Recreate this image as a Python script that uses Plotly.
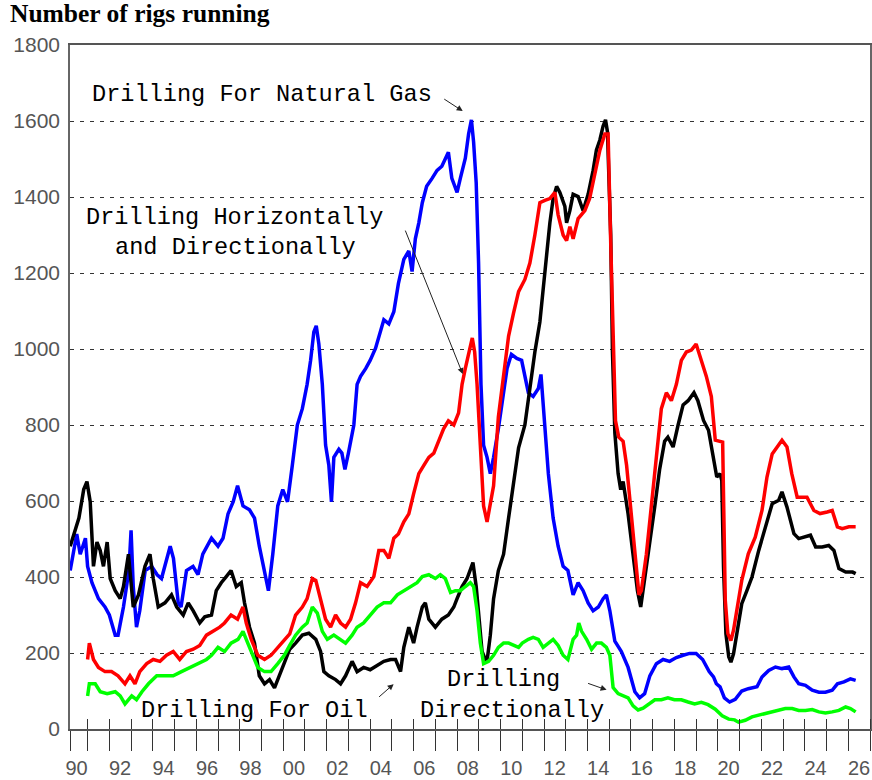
import plotly.graph_objects as go

# Baker Hughes style rig counts (decimal years)
gas_years = [1990.2, 1990.5, 1990.66, 1990.9, 1991.0, 1991.2, 1991.5, 1991.8, 1992.0, 1992.27,
             1992.4, 1992.65, 1992.9, 1993.0, 1993.1, 1993.25, 1993.4, 1993.65, 1993.95, 1994.2,
             1994.4, 1994.55, 1994.8, 1994.95, 1995.17, 1995.3, 1995.55, 1995.85, 1996.08, 1996.3,
             1996.7, 1997.0, 1997.23, 1997.46, 1997.7, 1997.9, 1998.15, 1998.45, 1998.68, 1998.9,
             1999.14, 1999.32, 1999.52, 1999.75, 1999.98, 2000.2, 2000.42, 2000.65, 2000.88, 2001.1,
             2001.26, 2001.41, 2001.52, 2001.64, 2001.8, 2001.95, 2002.1, 2002.22, 2002.33, 2002.56,
             2002.7, 2002.84, 2003.0, 2003.25, 2003.4, 2003.56, 2003.8, 2004.0, 2004.25, 2004.4,
             2004.63, 2004.86, 2005.09, 2005.3, 2005.55, 2005.78, 2005.93, 2006.08, 2006.24, 2006.4,
             2006.6, 2006.85, 2007.08, 2007.3, 2007.46, 2007.6, 2007.76, 2008.0, 2008.15, 2008.38,
             2008.53, 2008.66, 2008.76, 2008.88, 2008.99, 2009.1, 2009.22, 2009.38, 2009.53, 2009.68,
             2009.9, 2010.07, 2010.3, 2010.5, 2010.75, 2010.97, 2011.28, 2011.5, 2011.74, 2011.86,
             2011.96, 2012.2, 2012.42, 2012.65, 2012.88, 2013.1, 2013.34, 2013.57, 2013.8, 2014.03,
             2014.26, 2014.5, 2014.72, 2014.87, 2015.03, 2015.26, 2015.56, 2015.87, 2016.18, 2016.4,
             2016.63, 2016.87, 2017.17, 2017.48, 2017.78, 2018.09, 2018.4, 2018.7, 2019.0, 2019.3,
             2019.6, 2019.8, 2019.93, 2020.1, 2020.3, 2020.54, 2020.8, 2021.1, 2021.4, 2021.8,
             2022.03, 2022.34, 2022.65, 2022.95, 2023.26, 2023.5, 2023.72, 2024.03, 2024.34, 2024.65,
             2024.95, 2025.26, 2025.5, 2025.8, 2026.1, 2026.34]
gas_rigs = [417, 513, 460, 502, 428, 385, 343, 321, 300, 247,
            247, 321, 417, 523, 375, 268, 311, 417, 428, 406,
            396, 428, 481, 449, 332, 321, 417, 428, 406, 460,
            502, 481, 502, 566, 598, 640, 587, 577, 555, 481,
            417, 364, 460, 587, 630, 598, 694, 800, 843, 907,
            970, 1045, 1061, 1013, 907, 747, 694, 598, 715, 736,
            726, 683, 726, 800, 907, 928, 949, 970, 1002, 1034,
            1077, 1066, 1098, 1172, 1236, 1258, 1204, 1290, 1332, 1385,
            1428, 1449, 1470, 1481, 1502, 1518, 1449, 1412, 1449, 1502,
            1566, 1603, 1545, 1438, 1226, 907, 747, 715, 672, 715,
            790, 864, 949, 986, 975, 970, 885, 875, 896, 933,
            864, 672, 555, 481, 428, 417, 353, 385, 364, 332,
            311, 321, 343, 353, 311, 231, 204, 162, 98, 82,
            93, 140, 172, 183, 178, 188, 194, 199, 199, 183,
            151, 137, 119, 111, 82, 71, 78, 100, 106, 111,
            137, 154, 163, 159, 163, 137, 119, 115, 102, 97,
            97, 102, 119, 124, 132, 128]

oil_years = [1990.2, 1990.36, 1990.6, 1990.82, 1990.97, 1991.12, 1991.27, 1991.43, 1991.58, 1991.73,
             1991.9, 1992.04, 1992.27, 1992.5, 1992.65, 1992.88, 1993.1, 1993.34, 1993.64, 1993.87,
             1994.02, 1994.25, 1994.56, 1994.86, 1995.1, 1995.4, 1995.63, 1995.86, 1996.16, 1996.39,
             1996.7, 1996.92, 1997.15, 1997.38, 1997.6, 1997.84, 1998.07, 1998.22, 1998.45, 1998.68,
             1998.9, 1999.14, 1999.37, 1999.6, 1999.82, 2000.05, 2000.3, 2000.57, 2000.88, 2001.18,
             2001.5, 2001.72, 2001.87, 2002.1, 2002.41, 2002.64, 2002.87, 2003.17, 2003.4, 2003.7,
             2004.0, 2004.32, 2004.63, 2004.94, 2005.17, 2005.4, 2005.55, 2005.78, 2006.0, 2006.16,
             2006.4, 2006.54, 2006.7, 2007.0, 2007.3, 2007.6, 2007.85, 2008.0, 2008.23, 2008.46,
             2008.73, 2008.88, 2009.02, 2009.15, 2009.3, 2009.4, 2009.53, 2009.68, 2009.9, 2010.14,
             2010.37, 2010.6, 2010.83, 2011.12, 2011.35, 2011.58, 2011.81, 2011.96, 2012.12, 2012.27,
             2012.42, 2012.58, 2012.73, 2012.96, 2013.04, 2013.19, 2013.34, 2013.57, 2013.8, 2014.03,
             2014.26, 2014.41, 2014.57, 2014.72, 2014.83, 2014.92, 2015.07, 2015.15, 2015.26, 2015.41,
             2015.53, 2015.64, 2015.87, 2016.1, 2016.3, 2016.45, 2016.64, 2016.87, 2017.1, 2017.32,
             2017.55, 2017.7, 2017.94, 2018.17, 2018.4, 2018.63, 2018.9, 2019.08, 2019.34, 2019.57,
             2019.8, 2019.95, 2020.1, 2020.18, 2020.26, 2020.37, 2020.5, 2020.6, 2020.72, 2020.88,
             2021.1, 2021.34, 2021.57, 2021.88, 2022.18, 2022.5, 2022.8, 2022.95, 2023.18, 2023.5,
             2023.72, 2024.03, 2024.26, 2024.5, 2024.8, 2025.1, 2025.34, 2025.57, 2025.88, 2026.2,
             2026.34]
oil_rigs = [481, 513, 555, 630, 651, 598, 428, 492, 470, 428,
            492, 396, 364, 343, 375, 460, 321, 353, 428, 460,
            396, 321, 332, 353, 321, 300, 332, 311, 279, 295,
            300, 364, 385, 401, 417, 375, 385, 332, 268, 226,
            140, 119, 130, 108, 140, 172, 210, 226, 247, 252,
            236, 204, 151, 140, 130, 119, 140, 178, 151, 162,
            156, 167, 178, 183, 183, 151, 215, 268, 226, 268,
            321, 332, 289, 268, 289, 300, 321, 343, 375, 396,
            438, 375, 279, 204, 183, 188, 247, 343, 417, 460,
            555, 651, 740, 800, 896, 992, 1071, 1162, 1247, 1332,
            1396, 1428, 1412, 1375, 1332, 1364, 1407, 1401, 1364, 1407,
            1470, 1523, 1550, 1587, 1603, 1572, 1300, 992, 779, 672,
            630, 651, 566, 460, 364, 321, 396, 481, 587, 683,
            757, 768, 742, 800, 853, 864, 885, 864, 812, 786,
            716, 663, 672, 654, 426, 251, 190, 176, 198, 251,
            330, 365, 400, 470, 532, 593, 602, 624, 584, 514,
            501, 505, 510, 479, 479, 483, 470, 422, 413, 413,
            409]

hd_years = [1991.0, 1991.08, 1991.27, 1991.5, 1991.8, 1992.1, 1992.4, 1992.72, 1992.95, 1993.18,
            1993.4, 1993.72, 1994.02, 1994.33, 1994.63, 1994.94, 1995.24, 1995.55, 1995.86, 1996.16,
            1996.47, 1996.77, 1997.08, 1997.3, 1997.6, 1997.9, 1998.15, 1998.3, 1998.53, 1998.83,
            1999.14, 1999.44, 1999.75, 2000.05, 2000.3, 2000.57, 2000.88, 2001.1, 2001.34, 2001.5,
            2001.72, 2001.95, 2002.18, 2002.41, 2002.64, 2002.87, 2003.1, 2003.33, 2003.56, 2003.86,
            2004.17, 2004.4, 2004.63, 2004.86, 2005.09, 2005.3, 2005.55, 2005.78, 2006.0, 2006.24,
            2006.47, 2006.7, 2006.93, 2007.16, 2007.38, 2007.6, 2007.85, 2008.07, 2008.23, 2008.38,
            2008.53, 2008.7, 2008.81, 2008.92, 2009.07, 2009.22, 2009.38, 2009.53, 2009.68, 2009.9,
            2010.14, 2010.37, 2010.6, 2010.83, 2011.12, 2011.35, 2011.58, 2011.81, 2012.04, 2012.27,
            2012.5, 2012.65, 2012.88, 2013.04, 2013.19, 2013.34, 2013.57, 2013.88, 2014.1, 2014.34,
            2014.57, 2014.8, 2014.95, 2015.07, 2015.18, 2015.29, 2015.44, 2015.64, 2015.8, 2015.95,
            2016.18, 2016.37, 2016.48, 2016.71, 2016.94, 2017.17, 2017.4, 2017.63, 2017.86, 2018.09,
            2018.32, 2018.55, 2018.78, 2019.0, 2019.24, 2019.47, 2019.7, 2019.88, 2020.22, 2020.26,
            2020.34, 2020.46, 2020.6, 2020.72, 2020.88, 2021.1, 2021.4, 2021.72, 2022.03, 2022.26,
            2022.5, 2022.72, 2022.95, 2023.18, 2023.4, 2023.65, 2023.88, 2024.1, 2024.42, 2024.7,
            2025.03, 2025.26, 2025.5, 2025.72, 2026.03, 2026.34]
hd_rigs = [183, 226, 183, 162, 151, 151, 140, 119, 140, 119,
           151, 172, 183, 178, 194, 204, 183, 204, 210, 220,
           247, 257, 268, 279, 300, 289, 321, 279, 236, 194,
           183, 194, 215, 236, 250, 300, 321, 343, 396, 391,
           343, 289, 268, 300, 279, 268, 289, 332, 385, 375,
           401, 470, 470, 449, 502, 513, 545, 566, 619, 672,
           694, 715, 726, 757, 790, 811, 800, 832, 907, 949,
           992, 1029, 992, 907, 747, 587, 545, 587, 640, 821,
           928, 1034, 1095, 1151, 1183, 1226, 1300, 1385, 1391, 1396,
           1412, 1353, 1300, 1285, 1322, 1290, 1343, 1364, 1396, 1465,
           1523, 1566, 1566, 1279, 1013, 811, 768, 757, 694, 598,
           449, 353, 364, 460, 587, 715, 843, 885, 864, 907,
           970, 992, 997, 1013, 970, 928, 875, 760, 755, 602,
           339, 251, 233, 260, 321, 391, 461, 505, 575, 663,
           724, 742, 760, 742, 672, 610, 610, 610, 575, 567,
           571, 575, 532, 527, 532, 532]

dir_years = [1991.0, 1991.08, 1991.35, 1991.58, 1991.9, 1992.27, 1992.5, 1992.72, 1993.03, 1993.25,
             1993.5, 1993.8, 1994.18, 1994.56, 1994.94, 1995.32, 1995.7, 1996.08, 1996.47, 1996.7,
             1997.0, 1997.3, 1997.6, 1997.92, 1998.15, 1998.37, 1998.6, 1998.83, 1999.14, 1999.44,
             1999.75, 2000.05, 2000.3, 2000.57, 2000.88, 2001.1, 2001.34, 2001.57, 2001.8, 2002.03,
             2002.33, 2002.64, 2002.87, 2003.17, 2003.4, 2003.7, 2004.0, 2004.32, 2004.63, 2004.94,
             2005.25, 2005.55, 2005.86, 2006.16, 2006.4, 2006.7, 2007.0, 2007.23, 2007.46, 2007.7,
             2007.92, 2008.15, 2008.38, 2008.61, 2008.76, 2008.92, 2009.07, 2009.22, 2009.45, 2009.68,
             2009.9, 2010.14, 2010.37, 2010.6, 2010.83, 2011.0, 2011.28, 2011.5, 2011.74, 2011.96,
             2012.2, 2012.42, 2012.65, 2012.88, 2013.1, 2013.34, 2013.5, 2013.6, 2013.73, 2013.96,
             2014.19, 2014.42, 2014.64, 2014.87, 2015.03, 2015.18, 2015.41, 2015.64, 2015.87, 2016.1,
             2016.33, 2016.56, 2016.8, 2017.1, 2017.4, 2017.7, 2018.0, 2018.32, 2018.63, 2018.93,
             2019.24, 2019.55, 2019.88, 2020.2, 2020.5, 2020.77, 2020.95, 2021.26, 2021.57, 2021.88,
             2022.18, 2022.5, 2022.8, 2023.1, 2023.42, 2023.72, 2024.03, 2024.34, 2024.65, 2024.95,
             2025.26, 2025.57, 2025.88, 2026.1, 2026.34]
dir_rigs = [87, 119, 119, 98, 93, 98, 87, 66, 87, 77,
            98, 119, 140, 140, 140, 151, 162, 172, 183, 194,
            215, 204, 226, 236, 257, 226, 194, 162, 151, 151,
            172, 194, 220, 247, 268, 279, 321, 305, 257, 236,
            247, 236, 226, 247, 268, 279, 300, 321, 332, 332,
            353, 364, 375, 385, 401, 406, 396, 406, 396, 359,
            364, 364, 375, 385, 375, 311, 226, 172, 178, 194,
            215, 226, 226, 220, 215, 226, 236, 241, 236, 215,
            226, 236, 220, 194, 183, 236, 247, 279, 257, 236,
            210, 226, 226, 215, 194, 109, 93, 87, 82, 61,
            50, 55, 66, 77, 77, 82, 77, 77, 71, 66,
            70, 64, 52, 35, 26, 24, 18, 23, 32, 36,
            40, 45, 49, 54, 54, 49, 49, 51, 45, 42,
            45, 49, 58, 54, 45]

# x axis: a tick at every year boundary, even years labelled in the middle of the year
x_start, x_end = 1990.19, 2027.0
year_ticks = list(range(1991, 2028))
year_text = [str(y - 1)[2:] if (y - 1) % 2 == 0 else "" for y in year_ticks]
y_ticks = list(range(0, 1801, 200))
half_year_px = int(round(800 / (x_end - x_start) / 2))

fig = go.Figure()

series = [
    (gas_years, gas_rigs, "#0000ff", "Drilling For Natural Gas"),
    (oil_years, oil_rigs, "#000000", "Drilling For Oil"),
    (hd_years, hd_rigs, "#ff0000", "Drilling Horizontally and Directionally"),
    (dir_years, dir_rigs, "#00ff00", "Drilling Directionally"),
]
for xs, ys, color, name in series:
    fig.add_trace(go.Scatter(x=xs, y=ys, mode="lines", name=name,
                             line=dict(color=color, width=3.5)))

tick_font = dict(family="Liberation Sans", size=20, color="#555555")
label_font = dict(family="Liberation Mono", size=23.6, color="black")

fig.update_layout(
    width=872, height=780,
    margin=dict(l=70, r=2, t=45, b=51, autoexpand=False),
    paper_bgcolor="white", plot_bgcolor="white",
    showlegend=False,
    title=dict(text="<b>Number of rigs running</b>",
               font=dict(family="Liberation Serif", size=25.5, color="black"),
               x=10 / 872, xanchor="left", xref="container",
               y=1 - 4 / 780, yanchor="top", yref="container", automargin=False),
    xaxis=dict(range=[x_start, x_end], tickmode="array", automargin=False,
               tickvals=[x_start] + year_ticks, ticktext=[""] + year_text,
               ticklabelshift=-half_year_px,
               ticks="outside", ticklen=20, tickcolor="#333333", tickwidth=1,
               tickfont=tick_font,
               minor=dict(tickmode="linear", tick0=1991.002, dtick=1,
                          ticks="inside", ticklen=10, tickcolor="#333333",
                          tickwidth=1, showgrid=False),
               showline=True, linecolor="#555555", linewidth=1.5, mirror=True,
               showgrid=False, zeroline=False),
    yaxis=dict(range=[0, 1800], tickmode="array", tickvals=y_ticks, automargin=False,
               ticks="outside", ticklen=4, tickcolor="rgba(0,0,0,0)",
               tickfont=dict(tick_font, size=21),
               showgrid=True, gridcolor="#333333", gridwidth=1, griddash="4px,6px",
               showline=True, linecolor="#666666", linewidth=1.5, mirror=True,
               zeroline=False),
)

# text labels
texts = [
    ("Drilling For Natural Gas", 1999.04, 1671),
    ("Drilling Horizontally", 1997.77, 1347),
    ("and Directionally", 1997.82, 1268),
    ("Drilling For Oil", 1998.69, 50),
    ("Drilling", 2010.14, 129),
    ("Directionally", 2010.55, 50),
]
for t, x, y in texts:
    fig.add_annotation(text=t, x=x, y=y, xref="x", yref="y", showarrow=False,
                       font=label_font, xanchor="center", yanchor="middle")

# arrows: (tip x, tip y, tail offset px)
arrows = [
    (2008.26, 1626, -20, -13),
    (2008.26, 934, -58, -145),
    (2005.08, 118, -16, 14),
    (2014.88, 103, -20, -7),
]
for x, y, ax, ay in arrows:
    fig.add_annotation(text="", x=x, y=y, xref="x", yref="y", ax=ax, ay=ay,
                       showarrow=True, arrowhead=2, arrowsize=1.2, arrowwidth=1,
                       arrowcolor="#222222")

# page body has an 8px default margin; drop it so the figure sits at 0,0
fig.write_html("out.html", config={"displayModeBar": False},
               post_script="document.body.style.margin = '0';")
